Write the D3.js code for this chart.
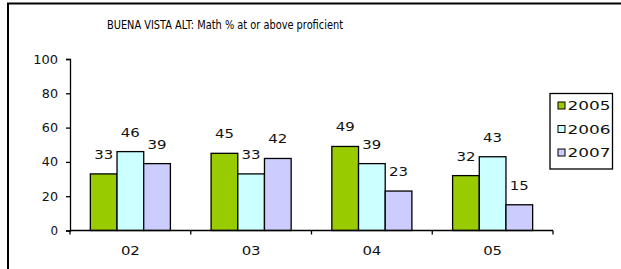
<!DOCTYPE html>
<html lang="en">
<head>
  <meta charset="UTF-8">
  <title>BUENA VISTA ALT Math</title>
  <script src="https://cdn.jsdelivr.net/npm/d3@7/dist/d3.min.js"></script>
  <style>
    body { margin: 0; background: #fff; }
    svg { display: block; font-family: 'DejaVu Sans', Verdana, sans-serif; }
  </style>
</head>
<body>
<svg></svg>
<script>
  const width = 621, height = 269
  const margin = {top: 59, right: 68, bottom: 38.5, left: 70}

  const title = 'BUENA VISTA ALT: Math % at or above proficient'
  const categories = ['02', '03', '04', '05']
  const years = ['2005', '2006', '2007']
  const values2005 = [33, 45, 49, 32]
  const values2006 = [46, 33, 39, 43]
  const values2007 = [39, 42, 23, 15]
  const yTicks = [0, 20, 40, 60, 80, 100]
  const colors = ['#99cc00', '#ccffff', '#ccccff']

  const series = [values2005, values2006, values2007]
  const data = categories.map((c, i) => ({
    cat: c,
    vals: years.map((y, j) => ({year: y, value: series[j][i]}))
  }))

  // the source picture is stretched sideways, so labels get a wider glyph run
  const wide = (sel, perChar) => sel
      .attr('textLength', d => String(d.value ?? d).length * perChar - 1)
      .attr('lengthAdjust', 'spacingAndGlyphs')

  const svg = d3.select('svg')
      .attr('width', width)
      .attr('height', height)
      .attr('viewBox', [0, 0, width, height])

  // outer frame, its right and bottom edges run off the picture
  svg.append('rect')
      .attr('x', 8).attr('y', 3.5)
      .attr('width', 640).attr('height', 300)
      .attr('fill', 'none')
      .attr('stroke', '#000')
      .attr('stroke-width', 2)

  svg.append('text')
      .attr('x', 107)
      .attr('y', 28.5)
      .attr('font-size', 12)
      .attr('textLength', 236)
      .attr('lengthAdjust', 'spacingAndGlyphs')
      .attr('fill', '#000')
      .text(title)

  const x = d3.scaleBand()
      .domain(categories)
      .range([margin.left, width - margin.right])
      .paddingInner(0.337)
      .paddingOuter(0.1685)

  const xs = d3.scaleBand()
      .domain(years)
      .range([0, x.bandwidth()])

  const y = d3.scaleLinear()
      .domain([0, 100])
      .range([height - margin.bottom, margin.top])

  const groups = svg.append('g')
      .selectAll('g')
      .data(data)
      .join('g')
      .attr('transform', d => `translate(${x(d.cat)},0)`)

  groups.selectAll('rect')
      .data(d => d.vals)
      .join('rect')
      .attr('x', d => xs(d.year))
      .attr('y', d => y(d.value))
      .attr('width', xs.bandwidth())
      .attr('height', d => y(0) - y(d.value))
      .attr('fill', (d, i) => colors[i])
      .attr('stroke', '#000')
      .attr('stroke-width', 1.3)

  //数值标签
  groups.selectAll('text')
      .data(d => d.vals)
      .join('text')
      .attr('x', d => xs(d.year) + xs.bandwidth() / 2)
      .attr('y', d => y(d.value) - 15)
      .attr('text-anchor', 'middle')
      .attr('font-size', 12)
      .attr('fill', '#111')
      .text(d => d.value)
      .call(wide, 10)

  //Y轴
  svg.append('g')
      .attr('transform', `translate(${margin.left},0)`)
      .call(d3.axisLeft(y).tickValues(yTicks).tickSize(4).tickPadding(8))
      .call(g => g.selectAll('path, line').attr('stroke', '#000').attr('stroke-width', 1.3))
      .call(g => g.selectAll('text').attr('font-size', 12.5).attr('fill', '#111')
          .attr('font-family', "'DejaVu Sans', Verdana, sans-serif")
          .call(wide, 8.6))

  //X轴
  const step = x.step()
  const bounds = d3.range(categories.length + 1).map(i => margin.left + i * step)
  const xAxis = svg.append('g')
      .attr('transform', `translate(0,${y(0)})`)
  xAxis.append('line')
      .attr('x1', margin.left).attr('x2', width - margin.right)
      .attr('stroke', '#000').attr('stroke-width', 1.3)
  xAxis.selectAll('.tick')
      .data(bounds)
      .join('line')
      .attr('x1', d => d).attr('x2', d => d)
      .attr('y1', 0).attr('y2', 4)
      .attr('stroke', '#000').attr('stroke-width', 1.3)
  xAxis.selectAll('text')
      .data(categories)
      .join('text')
      .attr('x', d => x(d) + x.bandwidth() / 2)
      .attr('y', 24)
      .attr('text-anchor', 'middle')
      .attr('font-size', 12)
      .attr('fill', '#111')
      .text(d => d)
      .call(wide, 10)

  //图例
  const legend = svg.append('g')
      .attr('transform', 'translate(550,93.5)')
  legend.append('rect')
      .attr('width', 62.5).attr('height', 75.5)
      .attr('fill', '#fff')
      .attr('stroke', '#000')
      .attr('stroke-width', 1.3)
  const items = legend.selectAll('g')
      .data(years)
      .join('g')
      .attr('transform', (d, i) => `translate(8,${12 + i * 23.5})`)
  items.append('rect')
      .attr('x', 0).attr('y', -3.5)
      .attr('width', 7).attr('height', 7)
      .attr('fill', (d, i) => colors[i])
      .attr('stroke', '#000')
  items.append('text')
      .attr('x', 9.5)
      .attr('y', 4.5)
      .attr('font-size', 12.5)
      .attr('fill', '#111')
      .text(d => d)
      .call(wide, 11)
</script>
</body>
</html>
